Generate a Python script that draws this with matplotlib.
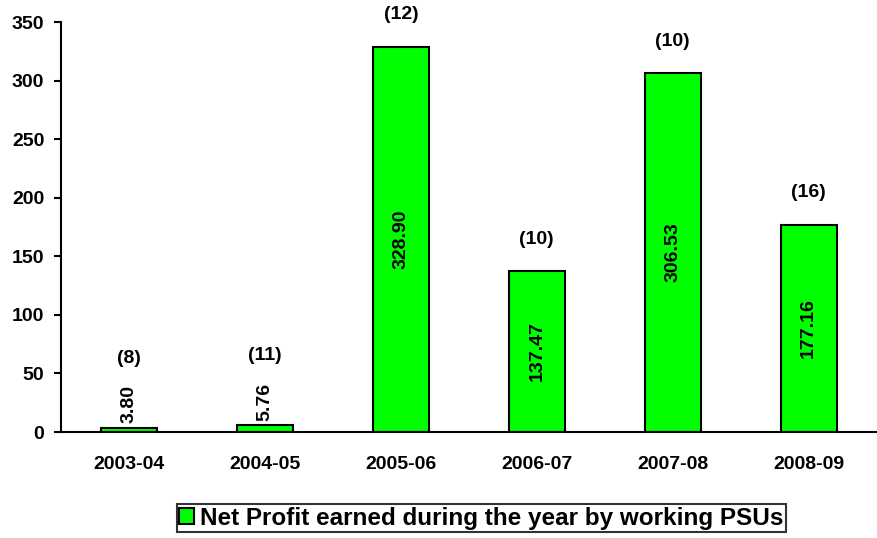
import matplotlib.pyplot as plt

plt.rcParams['font.family'] = ['Liberation Sans', 'DejaVu Sans']
plt.rcParams['font.weight'] = 'bold'

years = ["2003-04", "2004-05", "2005-06", "2006-07", "2007-08", "2008-09"]
net_profit = [3.80, 5.76, 328.90, 137.47, 306.53, 177.16]
psu_count = [8, 11, 12, 10, 10, 16]

fig = plt.figure(figsize=(8.77, 5.38), dpi=100)
ax = fig.add_axes([0.0696, 0.197, 0.93, 0.762])

x = range(len(years))
bars = ax.bar(x, net_profit, width=0.41, color='#00FF00', edgecolor='black',
              linewidth=1.5, label="Net Profit earned during the year by working PSUs")

fs = 14
for xi, v, n in zip(x, net_profit, psu_count):
    txt = "%.2f" % v
    if v > 50:
        ax.text(xi, v / 2, txt, rotation=90, ha='center', va='center',
                fontsize=fs, fontweight='bold')
        ax.annotate("(%d)" % n, (xi, v), xytext=(0, 23), textcoords='offset points',
                    ha='center', va='center', fontsize=fs, fontweight='bold')
    else:
        ax.annotate(txt, (xi, v), xytext=(0, 3), textcoords='offset points',
                    rotation=90, ha='center', va='bottom', fontsize=fs, fontweight='bold')
        ax.annotate("(%d)" % n, (xi, v), xytext=(0, 50), textcoords='offset points',
                    ha='center', va='center', fontsize=fs, fontweight='bold')

ax.set_xlim(-0.5, len(years) - 0.5)
ax.set_ylim(0, 350)
ax.set_yticks(range(0, 351, 50))
ax.set_xticks(list(x))
ax.set_xticklabels(years)
ax.tick_params(axis='x', length=0, pad=17, labelsize=fs)
ax.tick_params(axis='y', length=5, width=1.5, direction='out', labelsize=fs, pad=7)
for s in ['top', 'right']:
    ax.spines[s].set_visible(False)
for s in ['left', 'bottom']:
    ax.spines[s].set_linewidth(1.5)

leg = fig.legend(loc='center', bbox_to_anchor=(0.549, 0.037), frameon=True, fancybox=False,
                 edgecolor='black', handlelength=0.6, handleheight=0.6,
                 handletextpad=0.25, borderpad=0.1,
                 prop={'weight': 'bold', 'size': 17.5})
leg.get_frame().set_linewidth(1.5)

fig.savefig("out.png", dpi=100)
